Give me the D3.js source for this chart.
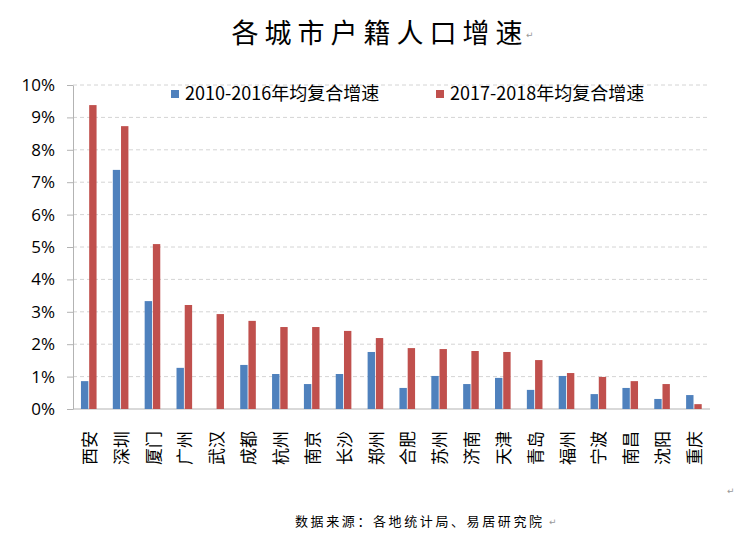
<!DOCTYPE html>
<html>
<head>
<meta charset="utf-8">
<script src="https://cdn.jsdelivr.net/npm/d3@7"></script>
<style>
  body { margin: 0; background: #fff; }
  svg { display: block; }
</style>
</head>
<body>
<div id="chart"></div>
<script>
// city names, left to right
const cities = ["西安", "深圳", "厦门", "广州", "武汉", "成都", "杭州", "南京", "长沙", "郑州",
  "合肥", "苏州", "济南", "天津", "青岛", "福州", "宁波", "南昌", "沈阳", "重庆"];
const seriesNames = ["2010-2016年均复合增速", "2017-2018年均复合增速"];
// values in percent
const growth2010_2016 = [0.86, 7.38, 3.33, 1.27, 0, 1.36, 1.08, 0.77, 1.08, 1.76,
  0.65, 1.02, 0.77, 0.96, 0.59, 1.02, 0.46, 0.65, 0.31, 0.43];
const growth2017_2018 = [9.38, 8.73, 5.09, 3.21, 2.93, 2.72, 2.53, 2.53, 2.41, 2.19,
  1.88, 1.85, 1.79, 1.76, 1.51, 1.11, 0.99, 0.86, 0.77, 0.15];
const yTicks = [0, 1, 2, 3, 4, 5, 6, 7, 8, 9, 10];

const colors = ["#4F81BD", "#C0504D"];
const width = 735, height = 542;
const margin = { top: 85, right: 25, bottom: 133, left: 73 };
const innerWidth = width - margin.left - margin.right;
const innerHeight = height - margin.top - margin.bottom;

const svg = d3.select("#chart").append("svg")
  .attr("width", width)
  .attr("height", height);

// Title
svg.append("text")
  .attr("x", 380)
  .attr("y", 43)
  .attr("text-anchor", "middle")
  .attr("font-family", "Noto Sans CJK SC")
  .attr("font-size", 27)
  .attr("letter-spacing", 6)
  .attr("fill", "#000")
  .text("各城市户籍人口增速");

const g = svg.append("g")
  .attr("transform", `translate(${margin.left},${margin.top})`);

const x0 = d3.scaleBand().domain(cities).range([0, innerWidth]);
const x1 = d3.scaleBand().domain(seriesNames)
  .range([x0.bandwidth() * 0.25, x0.bandwidth() * 0.74])
  .paddingInner(0.1);
const y = d3.scaleLinear().domain([0, 10]).range([innerHeight, 0]);

// dashed gridlines
g.selectAll("line.grid")
  .data(yTicks.filter(d => d > 0))
  .enter().append("line")
  .attr("class", "grid")
  .attr("x1", 0).attr("x2", innerWidth)
  .attr("y1", d => y(d)).attr("y2", d => y(d))
  .attr("stroke", "#d4d4d4")
  .attr("stroke-dasharray", "4,3");

// y axis
const yAxis = g.append("g")
  .call(d3.axisLeft(y).tickValues(yTicks).tickFormat(d => d + "%").tickSize(6).tickSizeOuter(0));
yAxis.select(".domain").attr("stroke", "#b3b3b3");
yAxis.selectAll(".tick line").attr("stroke", "#b3b3b3");
yAxis.selectAll(".tick text")
  .attr("x", -18)
  .attr("font-family", "Open Sans, Liberation Sans, sans-serif")
  .attr("font-size", 17)
  .attr("fill", "#000");

// baseline
g.append("line")
  .attr("x1", 0).attr("x2", innerWidth)
  .attr("y1", y(0)).attr("y2", y(0))
  .attr("stroke", "#b3b3b3");

// bars
const rows = cities.map((c, i) => ({ city: c, values: [growth2010_2016[i], growth2017_2018[i]] }));
const groups = g.selectAll("g.city")
  .data(rows)
  .enter().append("g")
  .attr("class", "city")
  .attr("transform", d => `translate(${x0(d.city)},0)`);

groups.selectAll("rect")
  .data(d => d.values.map((v, k) => ({ key: seriesNames[k], value: v, k: k })))
  .enter().append("rect")
  .attr("x", d => x1(d.key))
  .attr("width", x1.bandwidth())
  .attr("y", d => y(d.value))
  .attr("height", d => y(0) - y(d.value))
  .attr("fill", d => colors[d.k]);

// category labels, rotated -90 so they read bottom to top
g.selectAll("text.city-label")
  .data(cities)
  .enter().append("text")
  .attr("class", "city-label")
  .attr("transform", d => `translate(${x0(d) + x0.bandwidth() / 2 + 1},${y(0) + 22}) rotate(-90)`)
  .attr("text-anchor", "end")
  .attr("dy", "0.35em")
  .attr("font-family", "Noto Sans CJK SC")
  .attr("font-size", 17)
  .attr("fill", "#000")
  .text(d => d);

// legend
const legendX = [171, 436];
const legend = svg.selectAll("g.legend")
  .data(seriesNames)
  .enter().append("g")
  .attr("class", "legend")
  .attr("transform", (d, i) => `translate(${legendX[i]},90)`);
legend.append("rect")
  .attr("width", 8).attr("height", 8)
  .attr("fill", (d, i) => colors[i]);
legend.append("text")
  .attr("x", 14)
  .attr("y", 4)
  .attr("dy", "0.35em")
  .attr("font-family", "Noto Sans CJK SC")
  .attr("font-size", 18)
  .attr("fill", "#000")
  .text(d => d);

// source note
svg.append("text")
  .attr("x", 295)
  .attr("y", 526)
  .attr("font-family", "Noto Sans CJK SC")
  .attr("font-size", 13)
  .attr("letter-spacing", 2.6)
  .attr("fill", "#000")
  .text("数据来源：各地统计局、易居研究院");

// paragraph marks copied along with the picture
const marks = [[526, 38], [549, 525], [727, 494]];
svg.selectAll("text.mark")
  .data(marks)
  .enter().append("text")
  .attr("class", "mark")
  .attr("x", d => d[0]).attr("y", d => d[1])
  .attr("font-family", "DejaVu Sans")
  .attr("font-size", 9)
  .attr("fill", "#999")
  .text("↵");
</script>
</body>
</html>
